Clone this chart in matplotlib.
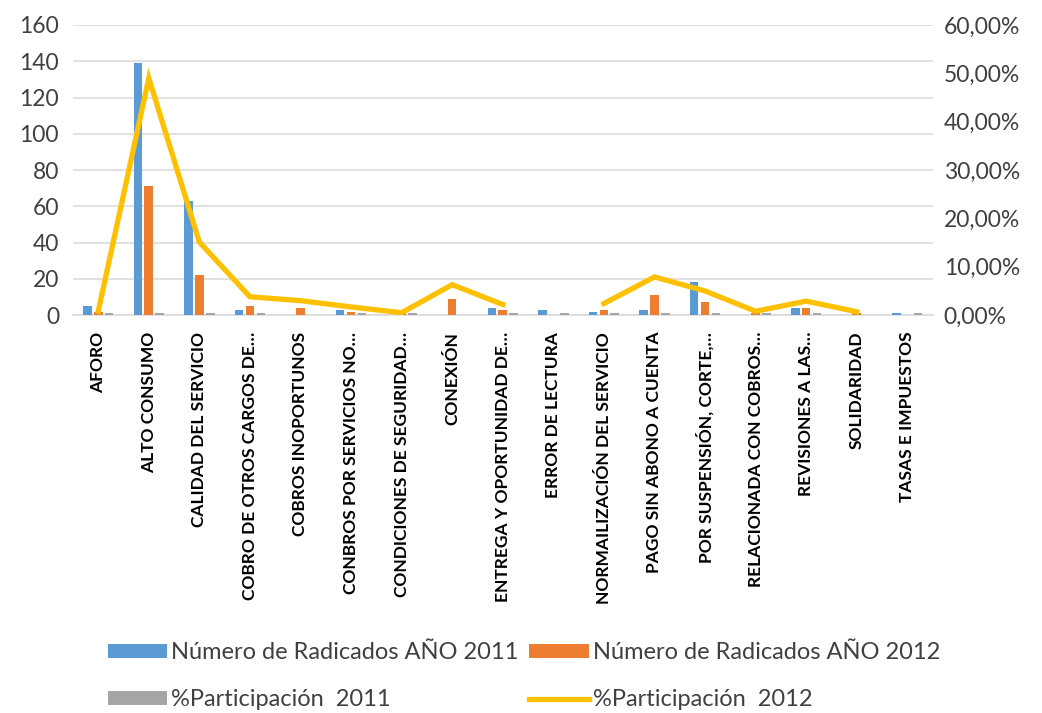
import matplotlib
matplotlib.use("Agg")
import matplotlib.pyplot as plt
import numpy as np
from matplotlib.ticker import FuncFormatter, MultipleLocator

BLUE = "#5B9BD5"; ORANGE = "#ED7D31"; GRAY = "#A5A5A5"; GOLD = "#FFC000"
GRID = "#D9D9D9"; TXT = "#404040"
plt.rcParams["font.family"] = ["Lato", "DejaVu Sans"]

categories = [
    "AFORO", "ALTO CONSUMO", "CALIDAD DEL SERVICIO", "COBRO DE OTROS CARGOS DE…",
    "COBROS INOPORTUNOS", "CONBROS POR SERVICIOS NO…", "CONDICIONES DE SEGURIDAD…",
    "CONEXIÓN", "ENTREGA Y OPORTUNIDAD DE…", "ERROR DE LECTURA",
    "NORMAILIZACIÓN DEL SERVICIO", "PAGO SIN ABONO A CUENTA", "POR SUSPENSIÓN, CORTE,…",
    "RELACIONADA CON COBROS…", "REVISIONES A LAS…", "SOLIDARIDAD", "TASAS E IMPUESTOS",
]
radicados_2011 = [5, 139, 63, 3, 0, 3, 0, 0, 4, 3, 2, 3, 18, 0, 4, 0, 1]
radicados_2012 = [2, 71, 22, 5, 4, 2, 1, 9, 3, 0, 3, 11, 7, 1, 4, 1, 0]
particip_2011 = [1.2, 1.2, 1.2, 1.2, 0, 1.2, 1.2, 0, 1.2, 1.2, 1.2, 1.2, 1.2, 1.2, 1.2, 0, 1.2]
particip_2012 = [0.008, 0.49, 0.151, 0.038, 0.030, 0.017, 0.005, 0.063, 0.022, np.nan,
                 0.024, 0.079, 0.050, 0.008, 0.029, 0.007, np.nan]

x = np.arange(len(categories))
w = 0.17; step = 0.215

fig = plt.figure(figsize=(10.42, 7.13), dpi=100)
ax = fig.add_axes([0.070, 0.558, 0.825, 0.407])
b1 = ax.bar(x - step, radicados_2011, w, color=BLUE, label="Número de Radicados AÑO 2011", zorder=3)
b2 = ax.bar(x, radicados_2012, w, color=ORANGE, label="Número de Radicados AÑO 2012", zorder=3)
b3 = ax.bar(x + step, particip_2011, w, color=GRAY, label="%Participación  2011", zorder=3)
ax.set_xlim(-0.5, len(categories) - 0.5)
ax.set_ylim(0, 160)
ax.yaxis.set_major_locator(MultipleLocator(20))
ax.grid(axis="y", color=GRID, lw=1.1, zorder=0)
for s in ["top", "right", "left"]:
    ax.spines[s].set_visible(False)
ax.spines["bottom"].set_color(GRID); ax.spines["bottom"].set_linewidth(1.1)
ax.set_xticks(x)
ax.set_xticklabels(categories, rotation=90, fontsize=12.5, fontweight="bold",
                   color="black", va="top", ha="center")
ax.tick_params(axis="x", length=0, pad=12)
ax.tick_params(axis="y", length=0, labelsize=16.5, labelcolor=TXT, pad=10)

ax2 = ax.twinx()
l1, = ax2.plot(x, particip_2012, color=GOLD, lw=3.8, solid_joinstyle="miter",
               label="%Participación  2012", zorder=4)
ax2.set_ylim(0, 0.6)
ax2.yaxis.set_major_locator(MultipleLocator(0.1))
ax2.yaxis.set_major_formatter(FuncFormatter(lambda v, p: f"{v*100:.2f}%".replace(".", ",")))
for s in ax2.spines.values():
    s.set_visible(False)
ax2.tick_params(axis="y", length=0, labelsize=16.5, labelcolor=TXT, pad=8)

handles = [b1, b3, b2, l1]
fig.legend(handles, [h.get_label() for h in handles], ncol=2, loc="lower left",
           bbox_to_anchor=(0.083, -0.026), frameon=False, fontsize=17,
           labelcolor=TXT, handlelength=2.5, handleheight=0.55, handletextpad=0.2,
           columnspacing=0.45, labelspacing=1.1)

fig.savefig("out.png", dpi=100)
